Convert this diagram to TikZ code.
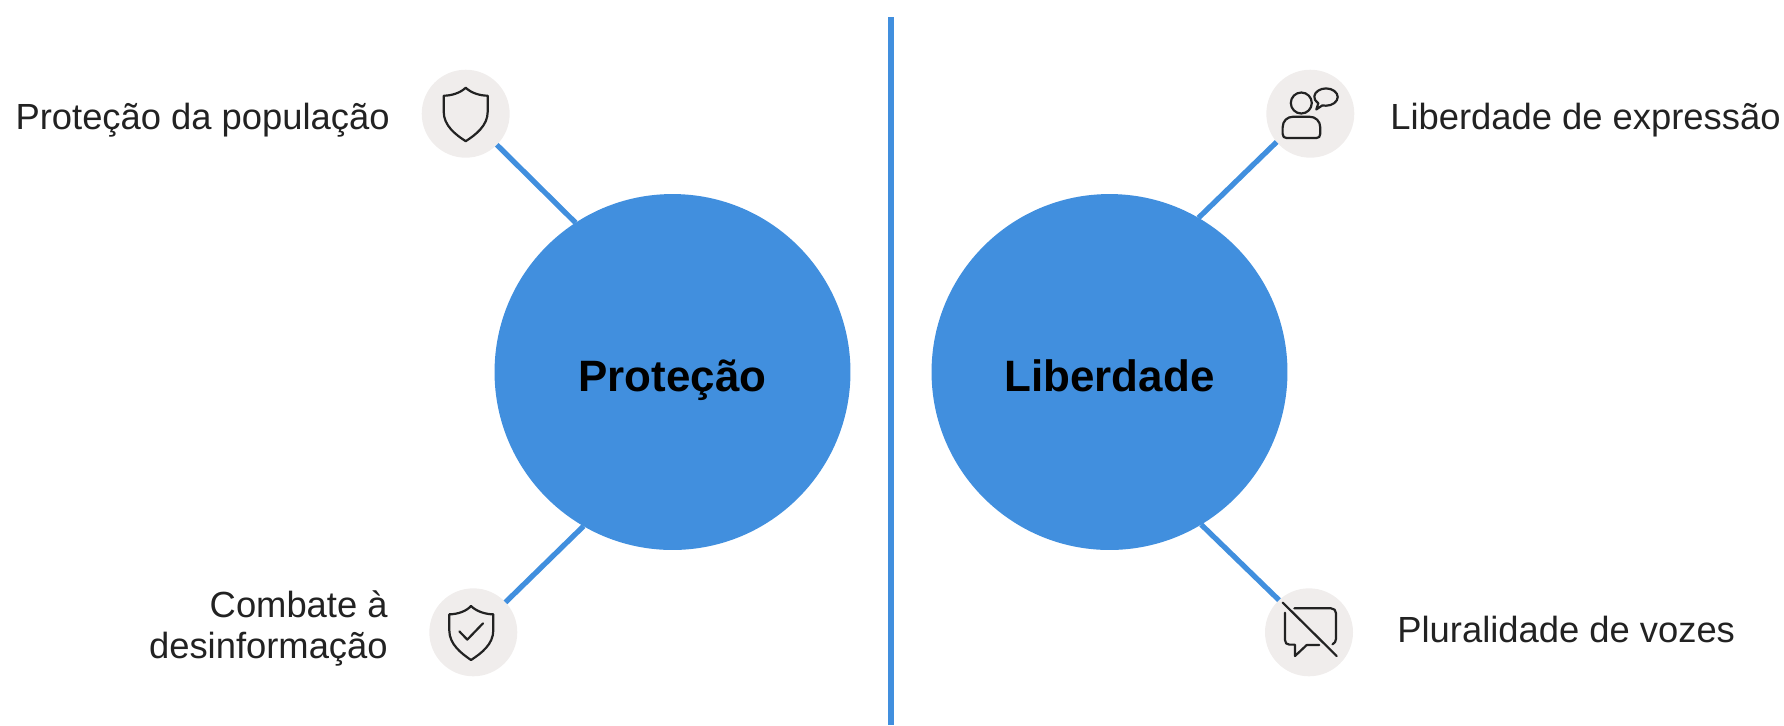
\documentclass[tikz,border=0pt]{standalone}
\usepackage{fontspec}
\setmainfont{Liberation Sans}
\definecolor{topicblue}{HTML}{418FDE}
\definecolor{iconback}{HTML}{F0EDEC}
\definecolor{inktext}{HTML}{222222}
\begin{document}
\begin{tikzpicture}[x=0.02cm, y=-0.02cm,
    bigcircle/.style={circle, fill=topicblue, minimum size=7.12cm, inner sep=0pt, outer sep=0pt, text=black, text height=27pt, text depth=5pt, font=\fontsize{25}{30}\selectfont\bfseries},
    iconcircle/.style={circle, fill=iconback, minimum size=1.76cm, inner sep=0pt, outer sep=0pt},
    itemtext/.style={text=inktext, inner sep=0pt, font=\fontsize{20.7}{23.2}\selectfont},
    iconline/.style={draw=inktext, line width=1.25pt, line join=round, line cap=round},
    link/.style={draw=topicblue, line width=3pt}]
    \useasboundingbox (0,0) rectangle (1784,725);
    \coordinate (dividertop) at (891,17);
    \coordinate (dividerbottom) at (891,725);
    \draw[link, line width=3.2pt] (dividertop) -- (dividerbottom);

    \node[bigcircle] (protecao) at (672.5,372) {Proteção};
    \node[bigcircle] (liberdade) at (1109.5,372) {Liberdade};

    \node[iconcircle] (populacao) at (465.7,113.7) {};
    \node[iconcircle] (combate) at (473.3,632.3) {};
    \node[iconcircle] (expressao) at (1310.3,113.7) {};
    \node[iconcircle] (vozes) at (1309,632.3) {};

    \draw[link] (populacao.-45) -- (protecao.123);
    \draw[link] (combate.43) -- (protecao.240);
    \draw[link] (expressao.220) -- (liberdade.60.5);
    \draw[link] (vozes.133) -- (liberdade.-59.5);

    \node[itemtext, anchor=east] (textpopulacao) at (390,120.5) {Proteção da população};
    \node[itemtext, anchor=east, align=right] (textcombate) at (388,628.5) {Combate à\\desinformação};
    \node[itemtext, anchor=west] (textexpressao) at (1390,120.5) {Liberdade de expressão};
    \node[itemtext, anchor=west] (textvozes) at (1397,629) {Pluralidade de vozes};

    \begin{scope}[shift={(populacao.center)}]
        \draw[iconline] (0,-26) .. controls (-5,-21) and (-14,-18) .. (-22,-18) -- (-22,-2)
        .. controls (-22,12) and (-10,21) .. (0,27.5)
        .. controls (10,21) and (22,12) .. (22,-2) -- (22,-18)
        .. controls (14,-18) and (5,-21) .. (0,-26) -- cycle;
    \end{scope}
    \begin{scope}[shift={(combate.center)}]
        \draw[iconline] (-2.3,-26.3) .. controls (-7,-21) and (-16,-18) .. (-24,-18) -- (-24,-2)
        .. controls (-24,12) and (-12,21) .. (-2.3,27.7)
        .. controls (8,21) and (20,12) .. (20,-2) -- (20,-18)
        .. controls (12,-18) and (3,-21) .. (-2.3,-26.3) -- cycle;
        \draw[iconline] (-14,-1) -- (-6,7.3) -- (9.7,-9);
    \end{scope}
    \begin{scope}[shift={(expressao.center)}]
        \draw[iconline] (-9,-10.7) circle (10.5);
        \draw[iconline] (-27.7,20) -- (-27.7,14) .. controls (-27.7,7) and (-23,3) .. (-17,3)
        -- (-1,3) .. controls (5,3) and (10,7) .. (10,14) -- (10,20)
        .. controls (10,23) and (8.5,24.3) .. (6,24.3) -- (-23.7,24.3)
        .. controls (-26.2,24.3) and (-27.7,23) .. (-27.7,20) -- cycle;
        \draw[iconline] (8,-10.5) .. controls (5,-13) and (3.5,-15) .. (4,-17.5)
        .. controls (4.5,-22) and (10,-25.3) .. (15.7,-25.3)
        .. controls (22,-25.3) and (27.4,-21.5) .. (27.4,-16.7)
        .. controls (27.4,-12) and (22,-8) .. (15.7,-8)
        .. controls (14,-8) and (13,-8) .. (12,-8.3) -- (6,-4.3) -- cycle;
    \end{scope}
    \begin{scope}[shift={(vozes.center)}]
        \draw[iconline] (-14.7,-24) -- (22,-24) .. controls (25,-24) and (27,-22) .. (27,-19) -- (27,6.5)
        .. controls (27,9) and (25.5,11) .. (23.5,12);
        \draw[iconline] (-24,-19.7) -- (-24,7.7) .. controls (-24,10.5) and (-22.5,12.3) .. (-19.7,12.3)
        -- (-14,12.3) -- (-14,23.7) -- (-2.3,12.7) -- (10.3,12.7);
        \draw[iconline] (-26.3,-29.7) -- (27.7,23.7);
    \end{scope}
\end{tikzpicture}
\end{document}
